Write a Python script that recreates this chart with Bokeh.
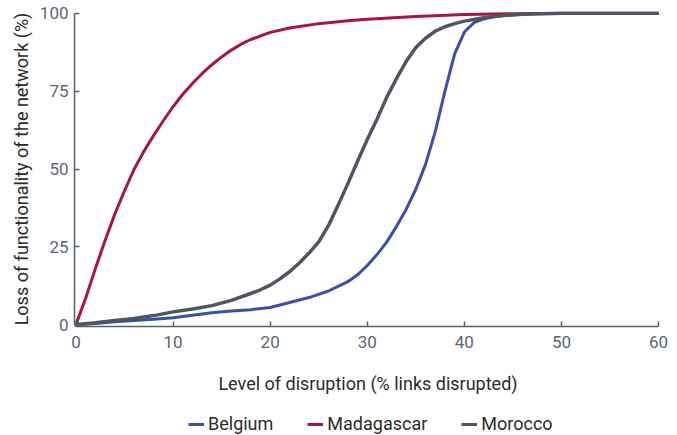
from bokeh.plotting import figure
from bokeh.models import Range1d, Legend, LegendItem
from bokeh.layouts import column
from bokeh.embed import file_html
from bokeh.resources import INLINE

belgium_x = [0, 2, 4, 6, 8, 10, 12, 14, 16, 18, 20, 22, 24, 26, 28, 29, 30, 31, 32, 33, 34, 35,
             36, 37, 38, 39, 40, 41, 42, 43, 44, 46, 50, 60]
belgium_y = [0, 0.4, 0.9, 1.3, 1.7, 2.2, 3.0, 3.8, 4.4, 4.8, 5.5, 7.1, 8.7, 10.8, 13.8, 16, 19,
             22.5, 26.5, 31.5, 37, 43.5, 51.5, 62, 75, 87, 94, 97, 98.2, 98.9, 99.3, 99.8, 100, 100]

madagascar_x = [0, 1, 2, 3, 4, 5, 6, 7, 8, 9, 10, 11, 12, 13, 14, 15, 16, 17, 18, 20, 22, 25,
                28, 30, 35, 40, 45, 50, 60]
madagascar_y = [0, 8.5, 18, 27, 35.5, 43, 50, 55.7, 60.8, 65.5, 70, 74, 77.5, 80.7, 83.5,
                86, 88.2, 90.1, 91.6, 93.9, 95.3, 96.7, 97.6, 98.1, 99, 99.6, 99.9, 100, 100]

morocco_x = [0, 2, 4, 6, 8, 10, 12, 14, 16, 18, 19, 20, 21, 22, 23, 24, 25, 26, 27, 28, 29, 30,
             31, 32, 33, 34, 35, 36, 37, 38, 39, 40, 42, 44, 46, 50, 60]
morocco_y = [0, 0.6, 1.3, 2, 2.9, 4.1, 5, 6.1, 7.8, 10, 11.2, 12.7, 14.7, 17, 19.8, 23, 26.6,
             31.8, 38.4, 45.3, 52.5, 59.5, 66, 73, 79, 84.5, 89, 92, 94.3, 95.7, 96.7, 97.5,
             98.6, 99.3, 99.7, 100, 100]

x_ticks = [0, 10, 20, 30, 40, 50, 60]
y_ticks = [0, 25, 50, 75, 100]

FONT = "Roboto"
c_bel = "#3a50a8"
c_mad = "#a6173d"
c_mor = "#4f5562"
c_axis = "#5b6070"
c_tick_lbl = "#5d6473"
c_text = "#2b2b2b"

p = figure(width=668, height=407, output_backend="svg", toolbar_location=None,
           x_range=Range1d(-0.15, 60.3), y_range=Range1d(-0.6, 100.6),
           min_border_left=74, min_border_right=7, min_border_top=11, min_border_bottom=81)
p.outline_line_color = None
p.grid.visible = False

r_bel = p.line(belgium_x, belgium_y, line_color=c_bel, line_width=3)
r_mad = p.line(madagascar_x, madagascar_y, line_color=c_mad, line_width=3)
r_mor = p.line(morocco_x, morocco_y, line_color=c_mor, line_width=3.5)
p.scatter([morocco_x[0]], [morocco_y[0]], size=7, color=c_mor)

for ax in (p.xaxis[0], p.yaxis[0]):
    ax.axis_line_color = c_axis
    ax.axis_line_width = 1.5
    ax.major_tick_line_color = c_axis
    ax.major_tick_line_width = 1.5
    ax.major_tick_in = 5
    ax.major_tick_out = 0
    ax.minor_tick_line_color = None
    ax.major_label_text_font = FONT
    ax.major_label_text_font_size = "17px"
    ax.major_label_text_color = c_tick_lbl
    ax.axis_label_text_font = FONT
    ax.axis_label_text_font_size = "18px"
    ax.axis_label_text_font_style = "normal"
    ax.axis_label_text_color = c_text

p.xaxis.ticker = x_ticks
p.yaxis.ticker = y_ticks
p.xaxis.bounds = (0, 60)
p.yaxis.bounds = (0, 100)
p.xaxis.axis_label = "Level of disruption (% links disrupted)"
p.yaxis.axis_label = "Loss of functionality of the network (%)"
p.xaxis.major_label_standoff = 9
p.xaxis.axis_label_standoff = 22
p.yaxis.major_label_standoff = 6
p.yaxis.axis_label_standoff = 5

# legend strip below the chart (its lines sit outside its visible range)
p2 = figure(width=668, height=27, output_backend="svg", toolbar_location=None,
            x_range=Range1d(0, 1), y_range=Range1d(1000, 1001),
            x_axis_type=None, y_axis_type=None, min_border=0)
p2.outline_line_color = None
p2.grid.visible = False
l_bel = p2.line(belgium_x, belgium_y, line_color=c_bel, line_width=3)
l_mad = p2.line(madagascar_x, madagascar_y, line_color=c_mad, line_width=3)
l_mor = p2.line(morocco_x, morocco_y, line_color=c_mor, line_width=3)

legend = Legend(items=[LegendItem(label="Belgium", renderers=[l_bel]),
                       LegendItem(label="Madagascar", renderers=[l_mad]),
                       LegendItem(label="Morocco", renderers=[l_mor])],
                orientation="horizontal", location=(114, 0),
                border_line_color=None, background_fill_alpha=0,
                label_text_font=FONT, label_text_font_size="18px", label_text_color=c_text,
                glyph_width=16, glyph_height=18, label_height=18, label_standoff=4,
                spacing=34, margin=0, padding=0)
p2.add_layout(legend, "center")

layout = column(p, p2, spacing=0)
open("out.html", "w").write(file_html(layout, INLINE))
